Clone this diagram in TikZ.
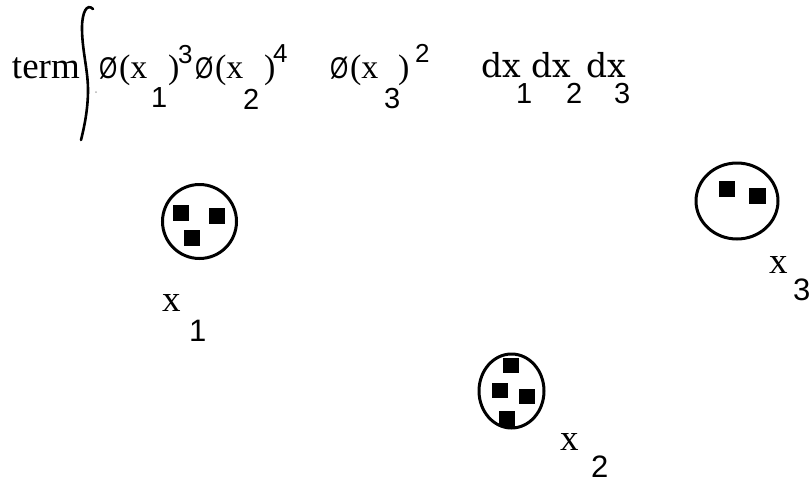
\documentclass[tikz,border=0pt]{standalone}
\usepackage{graphicx}
\usepackage{fontspec}
\setmainfont{Liberation Serif}
\newfontfamily\dsans{Liberation Sans}
\newfontfamily\dserif{DejaVu Serif}
\newcommand{\myphi}{\scalebox{0.78}[1]{Ø}}
\begin{document}
\begin{tikzpicture}[x=1pt,y=-1pt,
  txt/.style={anchor=base west,inner sep=0pt,outer sep=0pt},
  word/.style={txt,font=\fontsize{37}{37}\selectfont},
  paren/.style={txt,font=\fontsize{34}{34}\selectfont},
  phi/.style={txt,font=\dsans\fontsize{30}{30}\selectfont},
  dig/.style={txt,font=\dsans\fontsize{29}{29}\selectfont},
  sup/.style={txt,font=\dsans\fontsize{26}{26}\selectfont},
  dxs/.style={txt,font=\dserif\fontsize{33}{33}\selectfont},
  lab/.style={txt,font=\fontsize{37}{37}\selectfont},
  labd/.style={txt,font=\dsans\fontsize{31}{31}\selectfont},
  ring/.style={draw=black,line width=3pt},
  sq/.style={fill=black},
]
\useasboundingbox (0,0) rectangle (809,482);
% header
\node[word] (term) at (12,78) {term};
\draw[line width=2.6pt,line cap=round] (93,9) .. controls (87,3) and (82,12) .. (82,28)
  .. controls (82,50) and (88,70) .. (88,90) .. controls (88,110) and (84,128) .. (81,140);
\fill[gray!60] (96,92) circle (1pt);
\node[phi] (p1) at (99,78) {\myphi};
\node[paren] (x1a) at (119,78) {(x};
\node[dig] (s1) at (151,107) {1};
\node[paren] (r1) at (168,78) {)};
\node[sup] (e1) at (178,63) {3};
\node[phi] (p2) at (195,78) {\myphi};
\node[paren] (x2a) at (215,78) {(x};
\node[dig] (s2) at (243,109) {2};
\node[paren] (r2) at (264,78) {)};
\node[sup] (e2) at (273,62) {4};
\node[phi] (p3) at (330,78) {\myphi};
\node[paren] (x3a) at (350,78) {(x};
\node[dig] (s3) at (384,108) {3};
\node[paren] (r3) at (398,78) {)};
\node[sup] (e3) at (415,62) {2};
\node[dxs] (d1) at (481,77) {dx};
\node[dig] (t1) at (516,103) {1};
\node[dxs] (d2) at (531,77) {dx};
\node[dig] (t2) at (566,103) {2};
\node[dxs] (d3) at (586,77) {dx};
\node[dig] (t3) at (614,103) {3};
% cluster 1
\draw[ring] (199.5,221.5) circle (37);
\fill[sq] (173,205) rectangle (189,221);
\fill[sq] (209,208) rectangle (225,224);
\fill[sq] (184,230) rectangle (200,246);
\node[lab] (lx1) at (162,311) {x};
\node[labd] (ln1) at (189,341) {1};
% cluster 2
\draw[ring] (511.5,391) ellipse (32.5 and 37);
\fill[sq] (503,358) rectangle (519,373);
\fill[sq] (492,383) rectangle (508,398);
\fill[sq] (519,389) rectangle (535,404);
\fill[sq] (499,411) rectangle (515,427);
\node[lab] (lx2) at (560,450) {x};
\node[labd] (ln2) at (591,477) {2};
% cluster 3
\draw[ring] (737,201) ellipse (41 and 38);
\fill[sq] (719,181) rectangle (735,197);
\fill[sq] (749,188) rectangle (766,204);
\node[lab] (lx3) at (769,273) {x};
\node[labd] (ln3) at (793,300) {3};
\end{tikzpicture}
\end{document}
